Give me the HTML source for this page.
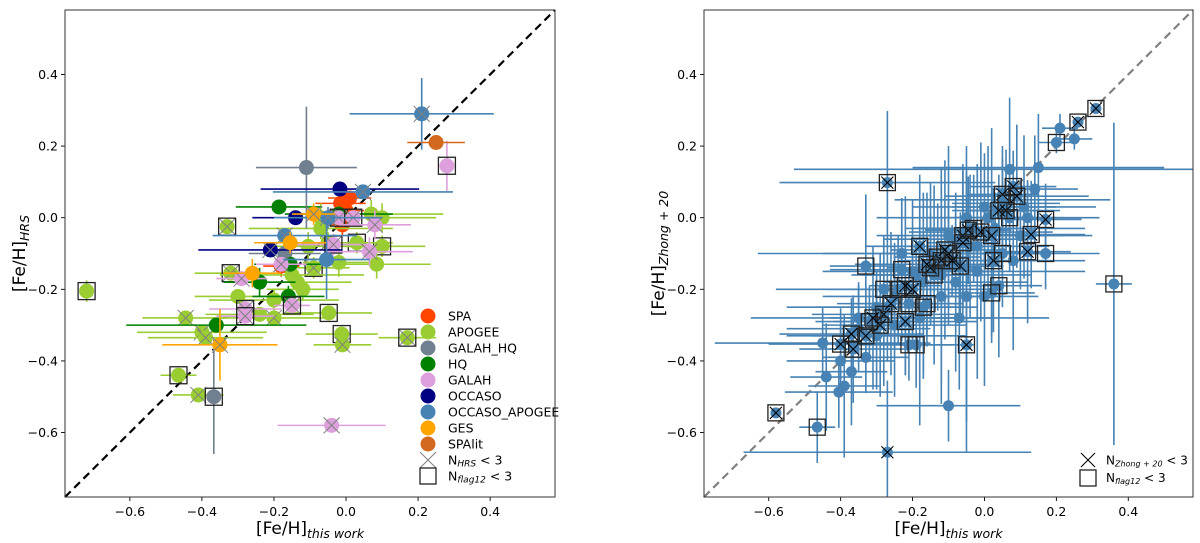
<!DOCTYPE html>
<html><head><meta charset="utf-8">
<style>
html,body{margin:0;padding:0;background:#fff;}
svg{display:block;font-family:"DejaVu Sans","Liberation Sans",sans-serif;}
</style></head>
<body>
<svg id="fig" width="1200" height="543" viewBox="0 0 1200 543" xmlns="http://www.w3.org/2000/svg">
<defs>
<clipPath id="clipL"><rect x="65" y="10" width="490" height="487"/></clipPath>
<clipPath id="clipR"><rect x="704" y="10" width="489" height="487"/></clipPath>
</defs>
</svg>
<script>
// ---- Shared axis data ----
const tickValues = [-0.6,-0.4,-0.2,0.0,0.2,0.4];
const tickLabels = ["\u22120.6","\u22120.4","\u22120.2","0.0","0.2","0.4"];
const axisMin = -0.78, axisMax = 0.58;

// ---- Left panel data ----
const catNames = ["SPA","APOGEE","GALAH_HQ","HQ","GALAH","OCCASO","OCCASO_APOGEE","GES","SPAlit"];
const catColors = ["#ff4500","#9acd32","#708090","#008000","#dda0dd","#000080","#4682b4","#ffa500","#d2691e"];
const leftX = [0.01,-0.015,-0.01,-0.18,0.0,
 -0.72,-0.33,-0.32,-0.135,-0.105,-0.09,-0.2,-0.445,-0.2,-0.40,-0.39,-0.465,-0.41,-0.048,-0.012,-0.01,-0.02,0.17,0.1,0.07,0.03,0.1,0.085,-0.07,-0.05,-0.15,-0.24,-0.3,-0.12,-0.07,
 -0.11,-0.367,-0.17,
 -0.186,-0.36,-0.24,-0.16,-0.02,-0.155,
 -0.04,0.28,-0.28,-0.28,-0.15,-0.29,-0.035,-0.02,0.02,0.08,0.065,-0.18,
 -0.017,-0.14,-0.21,
 0.21,0.047,-0.17,-0.054,-0.05,
 -0.35,-0.26,-0.155,-0.09,
 0.25];
const leftY = [0.055,0.04,-0.02,-0.135,0.02,
 -0.205,-0.025,-0.155,-0.18,-0.08,-0.14,-0.23,-0.28,-0.28,-0.32,-0.335,-0.44,-0.495,-0.266,-0.325,-0.355,-0.125,-0.335,0.0,0.01,-0.07,-0.08,-0.13,-0.03,-0.07,-0.16,-0.27,-0.22,-0.2,0.0,
 0.14,-0.5,-0.1,
 0.03,-0.3,-0.18,-0.22,0.01,-0.13,
 -0.58,0.145,-0.255,-0.275,-0.245,-0.17,-0.075,0.0,0.0,-0.02,-0.095,-0.13,
 0.08,0.0,-0.09,
 0.29,0.072,-0.05,-0.117,0.0,
 -0.355,-0.155,-0.07,0.01,
 0.21];
const leftCat = [0,0,0,0,0,
 1,1,1,1,1,1,1,1,1,1,1,1,1,1,1,1,1,1,1,1,1,1,1,1,1,1,1,1,1,1,
 2,2,2, 3,3,3,3,3,3, 4,4,4,4,4,4,4,4,4,4,4,4, 5,5,5, 6,6,6,6,6, 7,7,7,7, 8];
const leftXerr = [0.06,0.07,0.06,0.05,0.05,
 0.0,0.0,0.1,0.15,0.12,0.1,0.18,0.12,0.15,0.18,0.16,0.05,0.07,0.12,0.1,0.08,0.1,0.08,0.15,0.2,0.1,0.12,0.15,0.2,0.15,0.2,0.15,0.12,0.1,0.08,
 0.14,0.02,0.1,
 0.12,0.25,0.1,0.1,0.15,0.1,
 0.15,0.0,0.1,0.08,0.05,0.07,0.1,0.08,0.08,0.1,0.12,0.07,
 0.22,0.12,0.2,
 0.2,0.25,0.2,0.12,0.15,
 0.16,0.08,0.1,0.06,
 0.08];
const leftYerr = [0.02,0.02,0.03,0.03,0.02,
 0.03,0.0,0.02,0.03,0.04,0.03,0.03,0.02,0.02,0.02,0.02,0.02,0.02,0.02,0.02,0.02,0.04,0.02,0.04,0.04,0.03,0.03,0.04,0.03,0.03,0.03,0.02,0.02,0.03,0.04,
 0.17,0.16,0.05,
 0.0,0.0,0.04,0.03,0.02,0.02,
 0.0,0.07,0.02,0.02,0.02,0.02,0.03,0.02,0.02,0.04,0.04,0.02,
 0.0,0.02,0.02,
 0.1,0.0,0.0,0.11,0.03,
 0.1,0.04,0.03,0.03,
 0.0];
const leftCross = [0,0,0,0,0,
 0,1,1,0,0,1,0,1,1,1,1,0,1,0,0,1,0,1,0,0,0,0,0,0,1,0,0,0,0,0,
 0,0,0, 0,0,0,0,0,0, 1,0,1,1,1,1,1,1,1,1,1,1, 0,0,1, 1,1,1,0,1, 1,0,0,1, 0];
const leftSquare = [0,0,0,0,0,
 1,1,1,0,0,1,0,0,0,0,0,1,0,1,1,0,0,1,0,0,1,1,0,0,0,0,0,0,0,0,
 0,1,0, 0,0,0,0,0,0, 0,1,1,1,1,0,1,1,1,0,0,0, 0,0,0, 0,0,0,0,0, 0,0,0,0, 0];

// ---- Right panel data ----
const rightX = [0.31,0.26,0.21,0.2,0.25,0.15,0.07,-0.27,0.36,0.17,0.17,0.13,0.12,0.025,0.05,0.04,0.02,-0.05,-0.1,-0.465,-0.58,-0.27,-0.33,-0.18,-0.22,-0.21,-0.19,-0.4,-0.365,-0.33,-0.37,-0.28,-0.28,-0.23,-0.17,-0.067,-0.06,-0.045,0.08,0.05,0.06,-0.12,-0.15,-0.1,-0.2,-0.16,-0.44,-0.405,-0.39,-0.37,-0.33,-0.40,
 -0.3,-0.25,-0.2,-0.15,-0.1,-0.05,0.0,0.03,-0.02,-0.08,-0.12,-0.25,-0.3,-0.35,0.1,0.08,-0.02,-0.18,0.0,-0.45,0.05,-0.07,0.12,-0.23,-0.05,
 -0.26,-0.24,-0.22,-0.19,-0.16,-0.13,-0.11,-0.08,-0.06,-0.03,-0.01,0.01,0.04,0.06,0.09,-0.32,-0.29,-0.27,-0.14,-0.09,-0.04,0.02,0.07,-0.35,-0.31,-0.21,-0.17,0.11,0.14,-0.12];
const rightY = [0.305,0.267,0.25,0.21,0.22,0.14,0.135,0.098,-0.185,-0.1,-0.005,-0.047,-0.095,-0.12,-0.1,-0.19,-0.21,-0.355,-0.525,-0.585,-0.545,-0.655,-0.135,-0.08,-0.29,-0.355,-0.355,-0.353,-0.367,-0.33,-0.325,-0.27,-0.2,-0.145,-0.25,-0.135,-0.05,-0.035,0.087,0.065,0.02,-0.12,-0.14,-0.1,-0.2,-0.24,-0.445,-0.487,-0.47,-0.43,-0.39,-0.40,
 -0.25,-0.22,-0.15,-0.1,-0.05,0.0,0.03,-0.03,-0.08,-0.18,-0.22,-0.3,-0.33,-0.28,-0.05,-0.12,-0.15,-0.28,-0.22,-0.35,0.05,-0.28,0.0,-0.1,-0.22,
 -0.24,-0.2,-0.19,-0.16,-0.13,-0.11,-0.09,-0.06,-0.07,-0.03,-0.04,0.0,0.02,0.04,0.06,-0.29,-0.3,-0.25,-0.16,-0.12,-0.08,-0.05,0.0,-0.31,-0.28,-0.24,-0.18,0.03,0.08,-0.16];
const rightXerr = [0,0,0.05,0.05,0.05,0.35,0.6,0.3,0.05,0.15,0.1,0.15,0.12,0.15,0.1,0.12,0.12,0.02,0.2,0.05,0,0.4,0.1,0.15,0.2,0.15,0.1,0.2,0.15,0.15,0.2,0.2,0.3,0.2,0.15,0.12,0.1,0.12,0.12,0.1,0.15,0.1,0.12,0.12,0.12,0.1,0.1,0.15,0.1,0.1,0.12,0.15,
 0.25,0.2,0.25,0.3,0.2,0.25,0.2,0.25,0.2,0.2,0.15,0.2,0.25,0.3,0.2,0.2,0.3,0.2,0.15,0.3,0.3,0.25,0.2,0.4,0.1,
 0.15,0.2,0.1,0.15,0.2,0.12,0.15,0.2,0.1,0.15,0.2,0.12,0.1,0.15,0.2,0.15,0.1,0.2,0.12,0.15,0.1,0.2,0.15,0.2,0.12,0.15,0.1,0.2,0.12,0.25];
const rightYerr = [0,0,0.04,0.03,0.03,0.15,0.2,0.2,0.45,0.1,0.1,0.15,0.2,0.2,0.15,0.2,0.12,0.3,0.1,0.1,0,0.2,0.2,0.2,0.15,0.1,0.12,0.1,0.15,0.15,0.1,0.2,0.15,0.2,0.2,0.15,0.2,0.15,0.1,0.1,0.1,0.12,0.15,0.15,0.15,0.12,0.15,0.1,0.2,0.15,0.1,0.1,
 0.1,0.15,0.2,0.2,0.25,0.2,0.15,0.1,0.2,0.25,0.3,0.2,0.15,0.1,0.15,0.25,0.3,0.3,0.25,0.1,0.15,0.2,0.1,0.15,0.35,
 0.2,0.15,0.25,0.1,0.2,0.15,0.25,0.1,0.2,0.15,0.25,0.2,0.1,0.15,0.2,0.1,0.2,0.15,0.25,0.1,0.2,0.3,0.15,0.12,0.2,0.1,0.25,0.2,0.15,0.3];
const rightCross = [1,1,0,0,0,0,0,1,0,0,1,1,1,1,0,0,0,1,0,0,1,1,0,1,1,0,0,1,1,1,1,1,0,0,0,1,1,1,1,1,1,1,1,1,1,0,0,0,0,0,0,0,
 0,0,0,0,0,0,0,0,0,0,0,0,0,0,0,0,0,0,0,0,0,0,0,0,0,
 1,0,1,0,1,0,1,0,1,0,1,0,1,0,1,0,1,0,0,1,0,1,0,0,1,0,0,0,0,0];
const rightSquare = [1,1,0,1,0,0,0,1,1,1,1,1,1,1,1,1,1,1,0,1,1,0,1,1,1,1,1,1,1,1,1,1,1,1,1,1,1,1,1,1,1,1,1,1,1,1,0,0,0,0,0,0,
 0,0,0,0,0,0,0,0,0,0,0,0,0,0,0,0,0,0,0,0,0,0,0,0,0,
 1,1,1,0,1,1,1,0,1,1,1,0,1,1,1,1,1,0,1,1,0,1,1,0,1,1,0,0,0,0];

// ---- helpers ----
const NS = "http://www.w3.org/2000/svg";
const svg = document.getElementById('fig');
function mk(tag, attrs, parent){
  const e = document.createElementNS(NS, tag);
  for (const k in attrs) e.setAttribute(k, attrs[k]);
  (parent||svg).appendChild(e);
  return e;
}
function makeScales(left, top, w, h){
  return {
    sx: v => left + (v - axisMin) / (axisMax - axisMin) * w,
    sy: v => top + h - (v - axisMin) / (axisMax - axisMin) * h,
    left, top, w, h
  };
}
const L = makeScales(65, 10, 490, 487);
const R = makeScales(704, 10, 489, 487);

function drawAxes(S, prefix, ylabelSub, diagColor){
  const g = mk('g', {});
  
  
  const d = mk('line', {x1:S.sx(axisMin), y1:S.sy(axisMin), x2:S.sx(axisMax), y2:S.sy(axisMax), stroke:diagColor, 'stroke-width':2.2, 'stroke-dasharray':'8,5'}, g);
  
  
  tickValues.forEach((v,i)=>{
    const x = S.sx(v), y = S.sy(v);
    mk('line',{x1:x,y1:S.top+S.h,x2:x,y2:S.top+S.h+4,stroke:'#000','stroke-width':0.9},g);
    const tx = mk('text',{x:x,y:S.top+S.h+19,'text-anchor':'middle','font-size':12.5,fill:'#000'},g);
    tx.textContent = tickLabels[i];
    
    
    mk('line',{x1:S.left-4,y1:y,x2:S.left,y2:y,stroke:'#000','stroke-width':0.9},g);
    const ty = mk('text',{x:S.left-7,y:y+4.5,'text-anchor':'end','font-size':12.5,fill:'#000'},g);
    ty.textContent = tickLabels[i];
    
    
  });
  const xl = mk('text',{x:S.left+S.w/2,y:534,'text-anchor':'middle','font-size':17,fill:'#000'},g);
  xl.innerHTML = '[Fe/H]<tspan font-size="12.5" font-style="italic" dy="4">this work</tspan>';
  
  
  const cy = S.top + S.h/2, cx = S.left - 40;
  const yl = mk('text',{x:cx,y:cy,'text-anchor':'middle','font-size':17,fill:'#000',transform:`rotate(-90 ${cx} ${cy})`},g);
  yl.innerHTML = '[Fe/H]<tspan font-size="12.5" font-style="italic" dy="4">' + ylabelSub + '</tspan>';
  
  
}
function drawFrame(S, prefix){
  const f = mk('rect',{x:S.left,y:S.top,width:S.w,height:S.h,fill:'none',stroke:'#333','stroke-width':1});
  
  
}
function cross(g, x, y, s, color, w){
  mk('line',{x1:x-s,y1:y-s,x2:x+s,y2:y+s,stroke:color,'stroke-width':w},g);
  mk('line',{x1:x-s,y1:y+s,x2:x+s,y2:y-s,stroke:color,'stroke-width':w},g);
}

// ---- Left panel ----
drawAxes(L, 'left', 'HRS', '#000');
const gL = mk('g', {'clip-path':'url(#clipL)'});


leftX.forEach((xv,i)=>{
  const c = catColors[leftCat[i]];
  const x = L.sx(xv), y = L.sy(leftY[i]);
  const pg = mk('g',{},gL);
  
  
  if (leftXerr[i]>0) mk('line',{x1:L.sx(xv-leftXerr[i]),y1:y,x2:L.sx(xv+leftXerr[i]),y2:y,stroke:c,'stroke-width':1.6},pg);
  if (leftYerr[i]>0) mk('line',{x1:x,y1:L.sy(leftY[i]-leftYerr[i]),x2:x,y2:L.sy(leftY[i]+leftYerr[i]),stroke:c,'stroke-width':1.6},pg);
  mk('circle',{cx:x,cy:y,r:7.5,fill:c},pg);
  if (leftCross[i]) cross(pg,x,y,8,'#808080',1);
  if (leftSquare[i]) mk('rect',{x:x-8.5,y:y-8.5,width:17,height:17,fill:'none',stroke:'#222','stroke-width':1.3},pg);
});
drawFrame(L,'left');
const lgL = mk('g',{});


catNames.forEach((n,i)=>{
  const y = 316 + i*16;
  const eg = mk('g',{},lgL);
  
  
  mk('circle',{cx:428,cy:y,r:7.5,fill:catColors[i]},eg);
  const t = mk('text',{x:448,y:y+4.5,'font-size':12.5,fill:'#000'},eg);
  t.textContent = n;
});
{
  const eg = mk('g',{},lgL);
  
  
  cross(eg,428,460,8,'#808080',1);
  const t = mk('text',{x:448,y:464.5,'font-size':12.5,fill:'#000'},eg);
  t.innerHTML = 'N<tspan font-size="9" font-style="italic" dy="2">HRS</tspan><tspan dy="-2"> &lt; 3</tspan>';
  const eg2 = mk('g',{},lgL);
  
  
  mk('rect',{x:420,y:468,width:16,height:16,fill:'none',stroke:'#222','stroke-width':1.3},eg2);
  const t2 = mk('text',{x:448,y:480.5,'font-size':12.5,fill:'#000'},eg2);
  t2.innerHTML = 'N<tspan font-size="9" font-style="italic" dy="2">flag12</tspan><tspan dy="-2"> &lt; 3</tspan>';
}

// ---- Right panel ----
drawAxes(R, 'right', 'Zhong + 20', '#808080');
const gR = mk('g', {'clip-path':'url(#clipR)'});


const blue = '#4682b4';
rightX.forEach((xv,i)=>{
  const x = R.sx(xv), y = R.sy(rightY[i]);
  const pg = mk('g',{},gR);
  
  
  if (rightXerr[i]>0) mk('line',{x1:R.sx(xv-rightXerr[i]),y1:y,x2:R.sx(xv+rightXerr[i]),y2:y,stroke:blue,'stroke-width':1.6},pg);
  if (rightYerr[i]>0) mk('line',{x1:x,y1:R.sy(rightY[i]-rightYerr[i]),x2:x,y2:R.sy(rightY[i]+rightYerr[i]),stroke:blue,'stroke-width':1.6},pg);
  mk('circle',{cx:x,cy:y,r:5.5,fill:blue},pg);
});
rightX.forEach((xv,i)=>{
  const x = R.sx(xv), y = R.sy(rightY[i]);
  if (rightCross[i]) cross(gR,x,y,6,'#000',1.1);
  if (rightSquare[i]) mk('rect',{x:x-8,y:y-8,width:16,height:16,fill:'none',stroke:'#222','stroke-width':1.3},gR);
});
drawFrame(R,'right');
const lgR = mk('g',{});


{
  const eg = mk('g',{},lgR);
  
  
  cross(eg,1088,460,7,'#000',1.1);
  const t = mk('text',{x:1106,y:464.5,'font-size':12,fill:'#000'},eg);
  t.innerHTML = 'N<tspan font-size="8" font-style="italic" dy="2">Zhong + 20</tspan><tspan dy="-2"> &lt; 3</tspan>';
  const eg2 = mk('g',{},lgR);
  
  
  mk('rect',{x:1080,y:470,width:16,height:16,fill:'none',stroke:'#222','stroke-width':1.3},eg2);
  const t2 = mk('text',{x:1106,y:482,'font-size':12,fill:'#000'},eg2);
  t2.innerHTML = 'N<tspan font-size="8" font-style="italic" dy="2">flag12</tspan><tspan dy="-2"> &lt; 3</tspan>';
}
</script>
</body></html>
